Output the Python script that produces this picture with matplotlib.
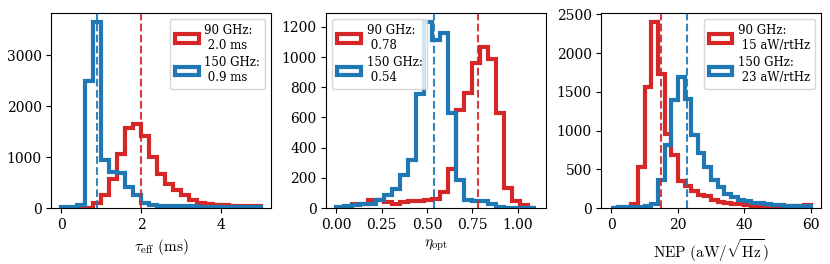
import numpy as np
import matplotlib
matplotlib.use('Agg')
import matplotlib.pyplot as plt

plt.rcParams['font.family'] = 'DejaVu Serif'
plt.rcParams['mathtext.fontset'] = 'cm'
plt.rcParams['font.size'] = 10

# tau_eff (ms): 25 bins of 0.2 from 0 to 5
tau_edges = np.linspace(0, 5, 26)
tau_90 = [0, 0, 0, 5, 105, 255, 580, 1070, 1580, 1660, 1410, 1005, 665, 470, 353,
          255, 157, 105, 78, 60, 60, 45, 45, 45, 45]
tau_150 = [13, 13, 60, 2500, 3650, 940, 712, 680, 418, 255, 105, 60, 45, 45, 45,
           35, 35, 30, 30, 30, 30, 25, 25, 25, 25]
tau_med = [1.99, 0.89]

# eta_opt: 25 bins from 0 to 1.1
eta_edges = np.linspace(0, 1.1, 26)
eta_90 = [0, 10, 25, 30, 55, 50, 40, 25, 40, 45, 45, 50, 60, 106, 261, 652, 762,
          958, 1065, 988, 630, 133, 44, 18, 3]
eta_150 = [8, 15, 20, 25, 30, 50, 88, 126, 221, 316, 756, 1231, 1115, 1160, 630,
           188, 50, 45, 45, 26, 5, 3, 3, 2, 2]
eta_med = [0.783, 0.536]

# NEP (aW/rtHz): 30 bins of 2 from 0 to 60
nep_edges = np.linspace(0, 60, 31)
nep_90 = [0, 5, 15, 55, 530, 1560, 2400, 1730, 950, 690, 345, 280, 215, 170, 155,
          100, 75, 70, 55, 50, 35, 32, 30, 28, 25, 25, 28, 30, 30, 35]
nep_150 = [5, 8, 10, 12, 15, 25, 55, 360, 810, 1390, 1690, 1410, 940, 710, 530,
           365, 270, 175, 145, 100, 85, 70, 60, 50, 40, 35, 30, 25, 20, 20]
nep_med = [14.8, 22.8]

colors = ['tab:red', 'tab:blue']
bands = ['90 GHz', '150 GHz']

panels = [
    (tau_edges, [tau_90, tau_150], tau_med, r'$\tau_{\rm eff}\ {\rm (ms)}$',
     '{:.1f} ms', 'upper right'),
    (eta_edges, [eta_90, eta_150], eta_med, r'$\eta_{\rm opt}$',
     '{:.2f}', 'upper left'),
    (nep_edges, [nep_90, nep_150], nep_med, r'${\rm NEP\ (aW/\sqrt{Hz})}$',
     '{:.0f} aW/rtHz', 'upper right'),
]

fig, axes = plt.subplots(1, 3, figsize=(8.3, 2.64), dpi=100)
fig.subplots_adjust(left=0.062, right=0.989, top=0.951, bottom=0.212, wspace=0.253)

for ax, (edges, counts, meds, xlabel, fmt, loc) in zip(axes, panels):
    centers = 0.5 * (edges[:-1] + edges[1:])
    for c, band, col, med in zip(counts, bands, colors, meds):
        ax.hist(centers, bins=edges, weights=c, histtype='step', lw=3, color=col,
                label=band + ':\n ' + fmt.format(med))
    for col, med in zip(colors, meds):
        ax.axvline(med, color=col, ls='--', lw=1.5, alpha=0.9)
    ax.set_xlabel(xlabel, fontsize=11)
    ax.legend(loc=loc, fontsize=8.5, handletextpad=0.5, labelspacing=0.4)

axes[0].set_xticks([0, 2, 4])
axes[0].set_yticks([0, 1000, 2000, 3000])
axes[1].set_xticks([0, 0.25, 0.5, 0.75, 1.0])
axes[2].set_xticks([0, 20, 40, 60])

plt.savefig('out.png', dpi=100)
